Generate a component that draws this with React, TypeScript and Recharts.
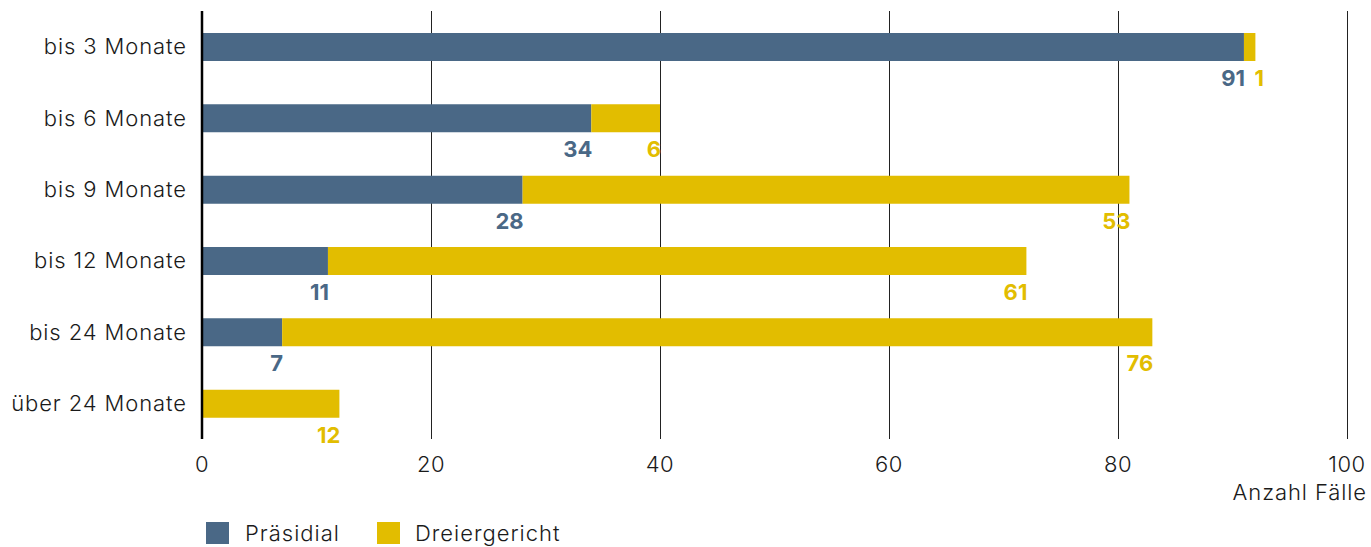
import { BarChart, Bar, XAxis, YAxis, CartesianGrid, LabelList, Label } from 'recharts';

const categories = ['bis 3 Monate', 'bis 6 Monate', 'bis 9 Monate', 'bis 12 Monate', 'bis 24 Monate', 'über 24 Monate'];
const praesidial = [91, 34, 28, 11, 7, 0];
const dreiergericht = [1, 6, 53, 61, 76, 12];
const xTicks = [0, 20, 40, 60, 80, 100];

const BLUE = '#4a6886';
const YELLOW = '#e2bd00';
const TEXT = '#1a1a1a';
const FONT = 'Inter, "Noto Sans", sans-serif';

const data = categories.map((name, i) => ({
  name,
  praesidial: praesidial[i],
  dreiergericht: dreiergericht[i],
}));

const valueLabel = (color: string, avoidPrev: boolean) => (props: any) => {
  const { x, y, width, height, value } = props;
  if (!value) return null;
  const end = Number(x) + Number(width);
  const textW = String(value).length * 13;
  const lx = avoidPrev ? Math.max(end + 1, Number(x) + 7 + textW) : end + 1;
  return (
    <text
      x={lx}
      y={Number(y) + Number(height) + 25}
      textAnchor="end"
      fill={color}
      fontFamily={FONT}
      fontWeight={700}
      fontSize={22}
    >
      {value}
    </text>
  );
};

export default function App() {
  return (
    <div style={{ position: 'absolute', left: 0, top: 0, width: 1371, height: 547, background: '#fff', fontFamily: FONT }}>
      <BarChart
        width={1371}
        height={547}
        data={data}
        layout="vertical"
        margin={{ top: 11, right: 24, left: 0, bottom: 48 }}
      >
        <CartesianGrid horizontal={false} vertical stroke="#222" strokeWidth={1} shapeRendering="crispEdges" />
        <XAxis
          type="number"
          domain={[0, 100]}
          ticks={xTicks}
          axisLine={false}
          tickLine={false}
          tickSize={0}
          tickMargin={17}
          height={60}
          tick={{ fill: TEXT, fontSize: 22, fontFamily: FONT, fontWeight: 300, letterSpacing: 0.5 }}
          interval={0}
        >
          <Label
            content={(p: any) => {
              const vb = p.viewBox;
              return (
                <text
                  x={vb.x + vb.width + 20}
                  y={vb.y + 61}
                  textAnchor="end"
                  fill={TEXT}
                  fontSize={22}
                  fontWeight={300}
                  letterSpacing={0.9}
                  fontFamily={FONT}
                >
                  Anzahl Fälle
                </text>
              );
            }}
          />
        </XAxis>
        <YAxis
          type="category"
          dataKey="name"
          width={202}
          axisLine={{ stroke: '#000', strokeWidth: 2.5 }}
          tickLine={false}
          tickSize={0}
          tickMargin={15}
          tick={{ fill: TEXT, fontSize: 22, fontFamily: FONT, fontWeight: 300, letterSpacing: 0.9 }}
          interval={0}
        />
        <Bar dataKey="praesidial" stackId="a" fill={BLUE} barSize={28} isAnimationActive={false}>
          <LabelList dataKey="praesidial" content={valueLabel(BLUE, false)} />
        </Bar>
        <Bar dataKey="dreiergericht" stackId="a" fill={YELLOW} barSize={28} isAnimationActive={false}>
          <LabelList dataKey="dreiergericht" content={valueLabel(YELLOW, true)} />
        </Bar>
      </BarChart>
      <div style={{ position: 'absolute', left: 206, top: 521, display: 'flex', alignItems: 'center', fontSize: 22, fontWeight: 300, letterSpacing: 1.0, color: TEXT, lineHeight: '24px' }}>
        <span style={{ width: 23, height: 22, background: BLUE, display: 'inline-block' }} />
        <span style={{ marginLeft: 16 }}>Präsidial</span>
        <span style={{ width: 23, height: 22, background: YELLOW, display: 'inline-block', marginLeft: 37 }} />
        <span style={{ marginLeft: 15 }}>Dreiergericht</span>
      </div>
    </div>
  );
}
